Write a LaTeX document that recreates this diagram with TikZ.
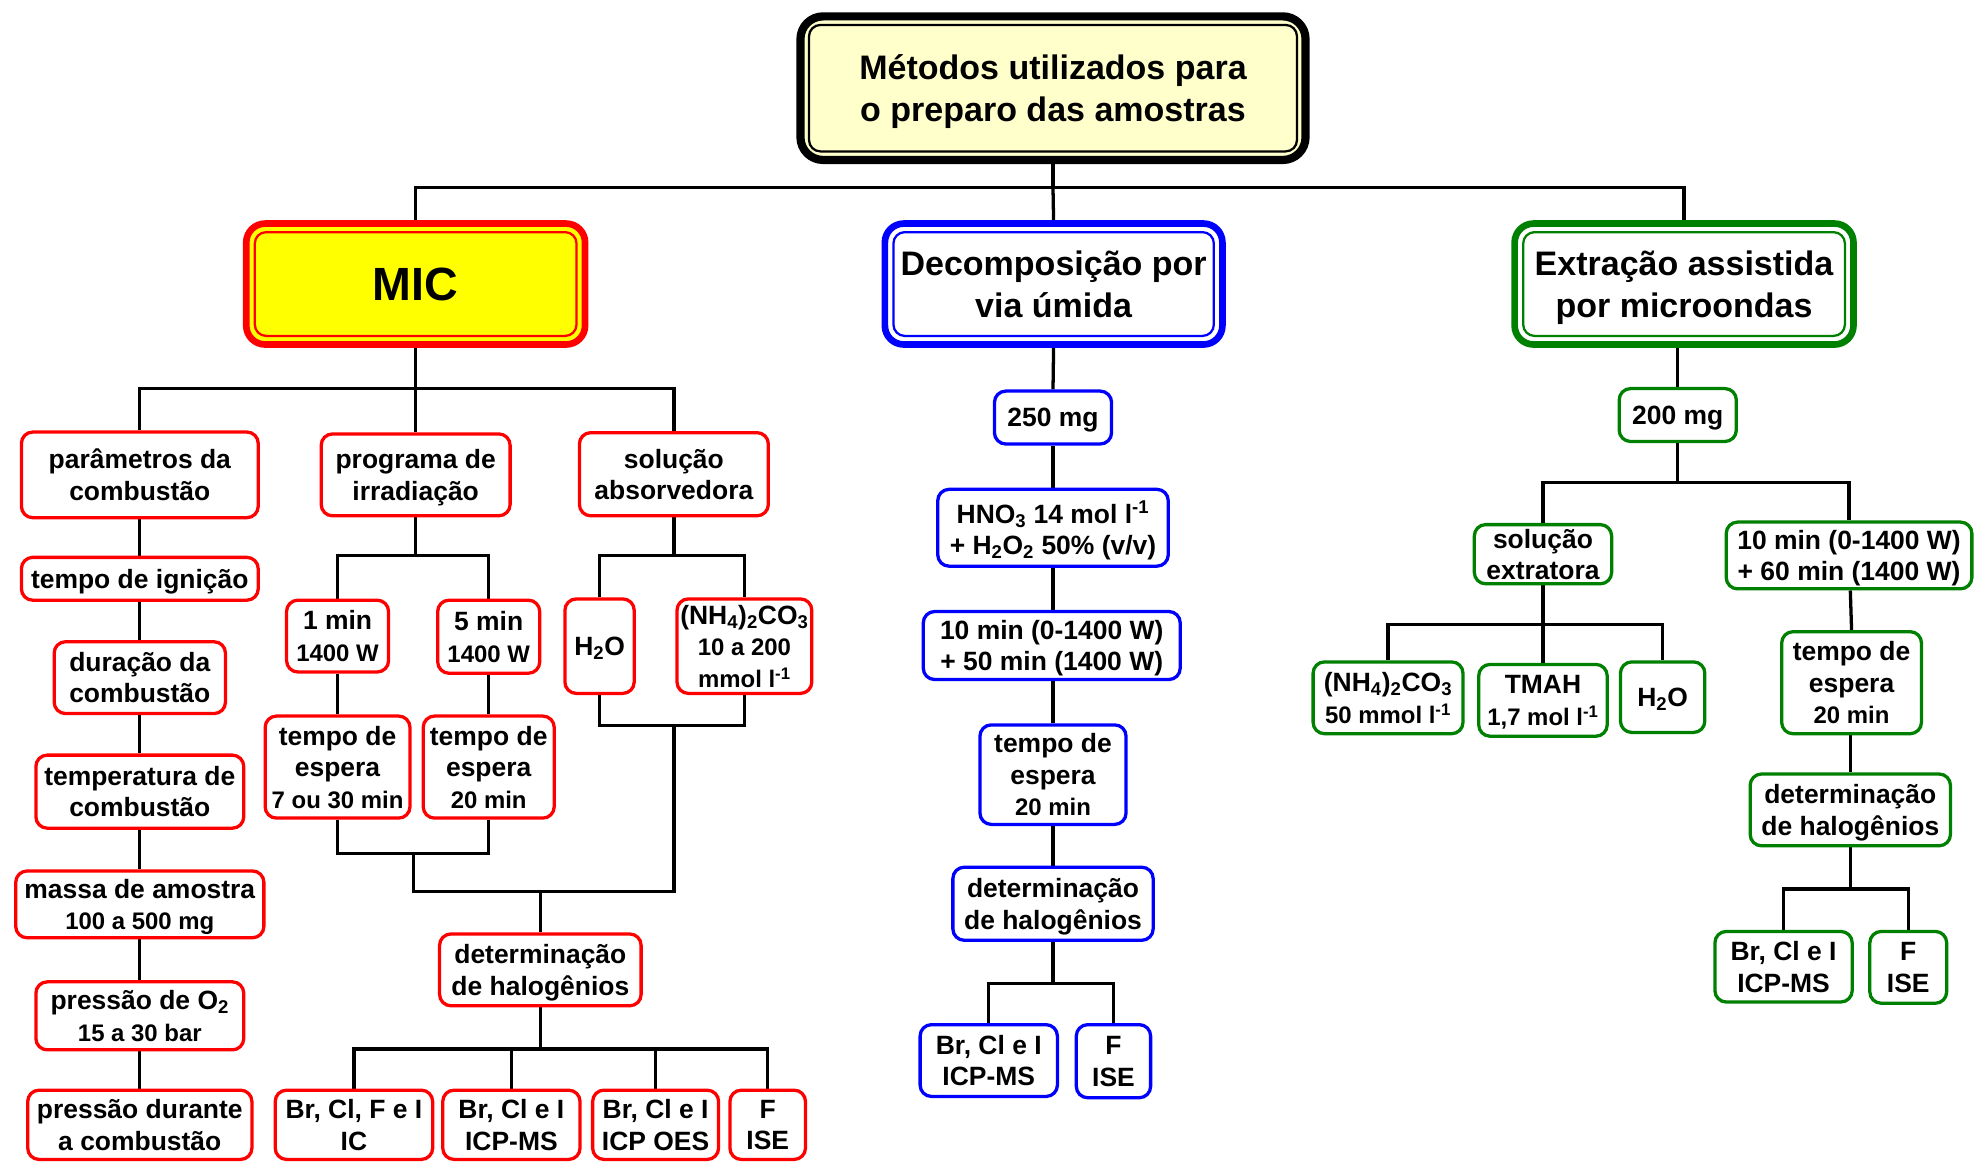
\documentclass[tikz,border=0pt]{standalone}
\usepackage{fontspec}
\setmainfont{Liberation Sans}
\usetikzlibrary{backgrounds}
\definecolor{tred}{RGB}{255,0,0}
\definecolor{tblue}{RGB}{0,0,255}
\definecolor{tgreen}{RGB}{0,128,0}
\definecolor{tyel}{RGB}{255,255,204}
\definecolor{myel}{RGB}{255,255,0}
\newcommand{\smtxt}[1]{{\fontsize{19}{22}\selectfont #1}}
\newcommand{\innerline}[2]{\draw[#2, line width=1.8, rounded corners=9] ([shift={(6.8,6.8)}]#1.north west) rectangle ([shift={(-6.8,-6.8)}]#1.south east);}
\tikzset{
  basebox/.style={rounded corners=9, line width=2.6, fill=white, align=center, inner sep=0,
    text depth=0pt, font=\fontsize{21}{25}\selectfont\bfseries},
  redbox/.style={basebox, draw=tred},
  bluebox/.style={basebox, draw=tblue},
  greenbox/.style={basebox, draw=tgreen},
  headbox/.style={rounded corners=15, line width=5.3, align=center, inner sep=0, outer sep=0,
    text depth=0pt, font=\fontsize{27}{33}\selectfont\bfseries},
  conn/.style={line width=2.6, black},
}
\begin{document}
\begin{tikzpicture}[x=1pt,y=-1pt]
\useasboundingbox (0,0) rectangle (1568,923);
% headings
\node[headbox, draw=black, fill=tyel, line width=6.5, rounded corners=18,
  minimum width=401, minimum height=114] (title) at (836,70) {Métodos utilizados para\\o preparo das amostras};
\innerline{title}{black}
\node[headbox, draw=tred, fill=myel, minimum width=269, minimum height=96,
  font=\fontsize{37}{44}\selectfont\bfseries] (mic) at (330,225.5) {MIC};
\innerline{mic}{tred}
\node[headbox, draw=tblue, fill=white, minimum width=268, minimum height=96] (dec) at (836.5,225.5) {Decomposição por\\via úmida};
\innerline{dec}{tblue}
\node[headbox, draw=tgreen, fill=white, minimum width=269, minimum height=96] (extr) at (1337,225.5) {Extração assistida\\por microondas};
\innerline{extr}{tgreen}
% MIC branch
\node[redbox, minimum width=188, minimum height=68] (par) at (111,377) {parâmetros da\\combustão};
\node[redbox, minimum width=150, minimum height=65] (prog) at (330,377) {programa de\\irradiação};
\node[redbox, minimum width=150, minimum height=66] (sol) at (535,376.5) {solução\\absorvedora};
\node[redbox, minimum width=188, minimum height=34] (ign) at (111,459.5) {tempo de ignição};
\node[redbox, minimum width=136, minimum height=57] (dur) at (111,538) {duração da\\combustão};
\node[redbox, minimum width=165, minimum height=58] (temp) at (111,628.5) {temperatura de\\combustão};
\node[redbox, minimum width=197, minimum height=53] (massa) at (111,718) {massa de amostra\\\smtxt{100 a 500 mg}};
\node[redbox, minimum width=165, minimum height=54] (pres) at (111,806.5) {pressão de O\textsubscript{2}\\\smtxt{15 a 30 bar}};
\node[redbox, minimum width=178, minimum height=55] (presd) at (111,893) {pressão durante\\a combustão};
\node[redbox, minimum width=81, minimum height=57] (m1) at (268,505) {1 min\\\smtxt{1400 W}};
\node[redbox, minimum width=81, minimum height=58] (m5) at (388,505.5) {5 min\\\smtxt{1400 W}};
\node[redbox, minimum width=115, minimum height=81] (e1) at (268,609) {tempo de\\espera\\\smtxt{7 ou 30 min}};
\node[redbox, minimum width=104, minimum height=81] (e2) at (388,609) {tempo de\\espera\\\smtxt{20 min}};
\node[redbox, minimum width=55, minimum height=75] (h2o) at (476,513) {H\textsubscript{2}O};
\node[redbox, minimum width=107, minimum height=75] (nh4) at (591,513) {(NH\textsubscript{4})\textsubscript{2}CO\textsubscript{3}\\\smtxt{10 a 200}\\\smtxt{mmol l\textsuperscript{-1}}};
\node[redbox, minimum width=160, minimum height=57] (det) at (429,770) {determinação\\de halogênios};
\node[redbox, minimum width=125, minimum height=55] (r1) at (281,893) {Br, Cl, F e I\\IC};
\node[redbox, minimum width=109, minimum height=55] (r2) at (406,893) {Br, Cl e I\\ICP-MS};
\node[redbox, minimum width=100, minimum height=55] (r3) at (520.5,893) {Br, Cl e I\\ICP OES};
\node[redbox, minimum width=60, minimum height=55] (r4) at (609.5,893) {F\\ISE};
% blue branch
\node[bluebox, minimum width=93, minimum height=42] (b250) at (836,331.5) {250 mg};
\node[bluebox, minimum width=183, minimum height=61] (bhno) at (836,419) {HNO\textsubscript{3} 14 mol l\textsuperscript{-1}\\+ H\textsubscript{2}O\textsubscript{2} 50\% (v/v)};
\node[bluebox, minimum width=204, minimum height=54] (b10) at (835,512.5) {10 min (0-1400 W)\\+ 50 min (1400 W)};
\node[bluebox, minimum width=116, minimum height=79] (besp) at (836,615) {tempo de\\espera\\\smtxt{20 min}};
\node[bluebox, minimum width=159, minimum height=58] (bdet) at (836,717.5) {determinação\\de halogênios};
\node[bluebox, minimum width=109, minimum height=57] (bicp) at (785,842) {Br, Cl e I\\ICP-MS};
\node[bluebox, minimum width=59, minimum height=58] (bise) at (884,842.5) {F\\ISE};
% green branch
\node[greenbox, minimum width=93, minimum height=42] (g200) at (1332,329.5) {200 mg};
\node[greenbox, minimum width=109, minimum height=47] (gsol) at (1225,440) {solução\\extratora};
\node[greenbox, minimum width=195, minimum height=53] (g10) at (1468,441) {10 min (0-1400 W)\\+ 60 min (1400 W)};
\node[greenbox, minimum width=119, minimum height=57] (gnh4) at (1102,554) {(NH\textsubscript{4})\textsubscript{2}CO\textsubscript{3}\\\smtxt{50 mmol l\textsuperscript{-1}}};
\node[greenbox, minimum width=102, minimum height=57] (gtmah) at (1225,556) {TMAH\\\smtxt{1,7 mol l\textsuperscript{-1}}};
\node[greenbox, minimum width=67, minimum height=56] (gh2o) at (1320,553.5) {H\textsubscript{2}O};
\node[greenbox, minimum width=111, minimum height=81] (gesp) at (1470,542) {tempo de\\espera\\\smtxt{20 min}};
\node[greenbox, minimum width=159, minimum height=57] (gdet) at (1469,643) {determinação\\de halogênios};
\node[greenbox, minimum width=109, minimum height=56] (gicp) at (1416,767.5) {Br, Cl e I\\ICP-MS};
\node[greenbox, minimum width=61, minimum height=57] (gise) at (1515,768) {F\\ISE};
% connectors
\begin{pgfonlayer}{background}
\draw[conn] (title.south) -- ++(0,22) coordinate (tj);
\draw[conn] (mic.north) |- (tj) -| (extr.north);
\draw[conn] (tj) -- (dec.north);
% MIC
\draw[conn] (mic.south) -- ++(0,35) coordinate (mj);
\draw[conn] (par.north) |- (mj) -| (sol.north);
\draw[conn] (mj) -- (prog.north);
\draw[conn] (par) -- (ign) -- (dur) -- (temp) -- (massa) -- (pres) -- (presd);
\draw[conn] (prog.south) -- ++(0,30) coordinate (pj);
\draw[conn] (m1.north) |- (pj) -| (m5.north);
\draw[conn] (m1) -- (e1);
\draw[conn] (m5) -- (e2);
\draw[conn] (e1.south) -- ++(0,27) coordinate (eb) -| (e2.south);
\coordinate (pb) at (328,678);
\draw[conn] (sol.south) -- ++(0,30) coordinate (sj);
\draw[conn] (h2o.north) |- (sj) -| (nh4.north);
\draw[conn] (h2o.south) -- ++(0,24) coordinate (sb) -| (nh4.south);
\coordinate (jj) at (328,708);
\draw[conn] (pb) -- (jj) -- (jj -| sol.south) -- (sb -| sol.south);
\draw[conn] (det.north) -- (det.north |- jj);
\draw[conn] (det.south) -- ++(0,33) coordinate (dj);
\draw[conn] (r1.north) |- (dj) -| (r4.north);
\draw[conn] (r2.north) -- (r2.north |- dj);
\draw[conn] (r3.north) -- (r3.north |- dj);
% blue
\draw[conn] (dec.south) -- (b250.north);
\draw[conn] (b250) -- (bhno) -- (besp |- b10) -- (besp) -- (bdet);
\draw[conn] (bdet.south) -- ++(0,33) coordinate (bj);
\draw[conn] (bicp.north) |- (bj) -| (bise.north);
% green
\draw[conn] (extr.south -| g200.north) -- (g200.north);
\draw[conn] (g200.south) -- ++(0,31) coordinate (gj);
\draw[conn] (gsol.north) |- (gj) -| (g10.north);
\draw[conn] (gsol.south) -- ++(0,31) coordinate (gsj);
\draw[conn] (gnh4.north) |- (gsj) -| (gh2o.north);
\draw[conn] (gsj) -- (gtmah.north);
\draw[conn] (g10.south -| gdet.north) -- (gesp.north);
\draw[conn] (gesp.south -| gdet.north) -- (gdet.north);
\draw[conn] (gdet.south) -- ++(0,33) coordinate (gdj);
\draw[conn] (gicp.north) |- (gdj) -| (gise.north);
\end{pgfonlayer}
\end{tikzpicture}
\end{document}
